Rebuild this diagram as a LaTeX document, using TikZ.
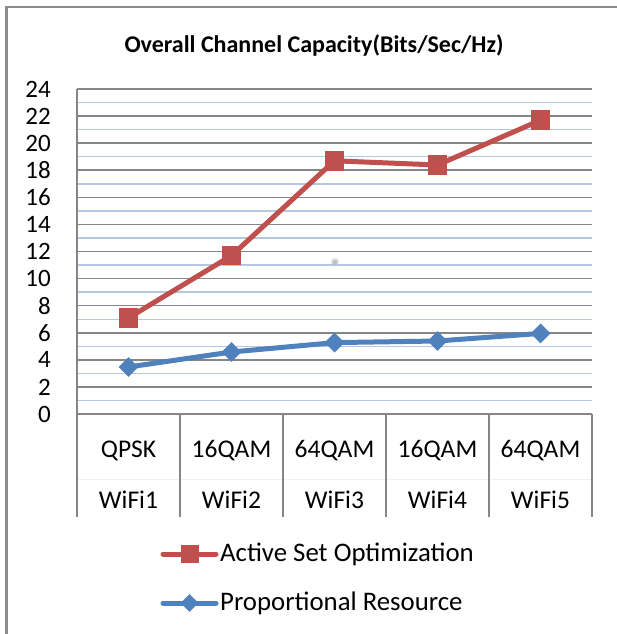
\documentclass[tikz,border=0pt]{standalone}
\usepackage{fontspec}
\setmainfont{Carlito}
\definecolor{exred}{HTML}{C0504D}
\definecolor{exblue}{HTML}{4F81BD}
\definecolor{gridgray}{HTML}{868686}
\definecolor{gridblue}{HTML}{B4C8E4}
\definecolor{framegray}{HTML}{8C8C8C}
\begin{document}
\begin{tikzpicture}[x=1pt,y=-1pt,
  majorgrid/.style={draw=gridgray,line width=1.6},
  minorgrid/.style={draw=gridblue,line width=1.4},
  catline/.style={draw=gridgray,line width=1.6},
  redser/.style={draw=exred,line width=5,line join=round,line cap=round},
  blueser/.style={draw=exblue,line width=5,line join=round,line cap=round},
  sqmark/.style={rectangle,fill=exred,minimum size=19.5,inner sep=0},
  diamark/.style={rectangle,rotate=45,fill=exblue,minimum size=14,inner sep=0},
  ticklab/.style={anchor=east,inner sep=0,font=\fontsize{25}{30}\selectfont},
  catlab/.style={inner sep=0,font=\fontsize{25.5}{30}\selectfont},
  leglab/.style={anchor=west,inner sep=0,font=\fontsize{26.8}{32}\selectfont},
  titlelab/.style={inner sep=0,font=\bfseries\fontsize{24}{28}\selectfont}]
\useasboundingbox (0,0) rectangle (617,634);
% chart frame
\draw[framegray,line width=3] (6.5,7) -- (6.5,634);
\draw[framegray,line width=2] (5,7) -- (617,7);
% title
\node[titlelab] (title) at (314,45) {Overall Channel Capacity(Bits/Sec/Hz)};
% grid
\foreach \v in {1,3,...,23}
  \draw[minorgrid] (77,{414-13.54*\v}) -- (592,{414-13.54*\v});
\foreach \v in {2,4,...,24}
  \draw[majorgrid] (77,{414-13.54*\v}) -- (592,{414-13.54*\v});
\foreach \v in {0,2,...,24}
  \node[ticklab] (t\v) at (51,{414-13.54*\v}) {\v};
% category table
\draw[gray!12,line width=1] (77,479) -- (592,479);
\draw[catline] (77,89) -- (77,517);
\foreach \x in {180,283,386,489,592}
  \draw[catline] (\x,414) -- (\x,517);
\draw[majorgrid] (77,414) -- (592,414);
\node[catlab] (c1) at (128.5,451) {QPSK};
\node[catlab] (c2) at (231.5,451) {16QAM};
\node[catlab] (c3) at (334.5,451) {64QAM};
\node[catlab] (c4) at (437.5,451) {16QAM};
\node[catlab] (c5) at (540.5,451) {64QAM};
\node[catlab] (w1) at (128.5,500) {WiFi1};
\node[catlab] (w2) at (231.5,500) {WiFi2};
\node[catlab] (w3) at (334.5,500) {WiFi3};
\node[catlab] (w4) at (437.5,500) {WiFi4};
\node[catlab] (w5) at (540.5,500) {WiFi5};
% smudge
\fill[gray!50,opacity=0.35] (335,262) circle (4.5);
\fill[gray!70,opacity=0.6] (335,262) circle (2.5);
% series points
\coordinate (r1) at (128.5,317.9);
\coordinate (r2) at (231.5,255.6);
\coordinate (r3) at (334.5,160.8);
\coordinate (r4) at (437.5,165.0);
\coordinate (r5) at (540.5,120.2);
\coordinate (b1) at (128.5,367.0);
\coordinate (b2) at (231.5,352.0);
\coordinate (b3) at (334.5,342.6);
\coordinate (b4) at (437.5,341.0);
\coordinate (b5) at (540.5,333.4);
\draw[redser] (r1) -- (r2) -- (r3) -- (r4) -- (r5);
\draw[blueser] (b1) -- (b2) -- (b3) -- (b4) -- (b5);
\foreach \i in {1,...,5} {
  \node[sqmark] (rm\i) at (r\i) {};
  \node[diamark] (bm\i) at (b\i) {};
}
% legend
\coordinate (la1) at (163,554);
\coordinate (la2) at (216,554);
\coordinate (lb1) at (163,603);
\coordinate (lb2) at (216,603);
\draw[redser] (la1) -- (la2);
\draw[blueser] (lb1) -- (lb2);
\node[sqmark,minimum size=18] (lam) at (189.5,554) {};
\node[diamark,minimum size=12.5] (lbm) at (189.5,603) {};
\node[leglab] (lat) at (220,554) {Active Set Optimization};
\node[leglab] (lbt) at (220,603) {Proportional Resource};
\end{tikzpicture}
\end{document}
